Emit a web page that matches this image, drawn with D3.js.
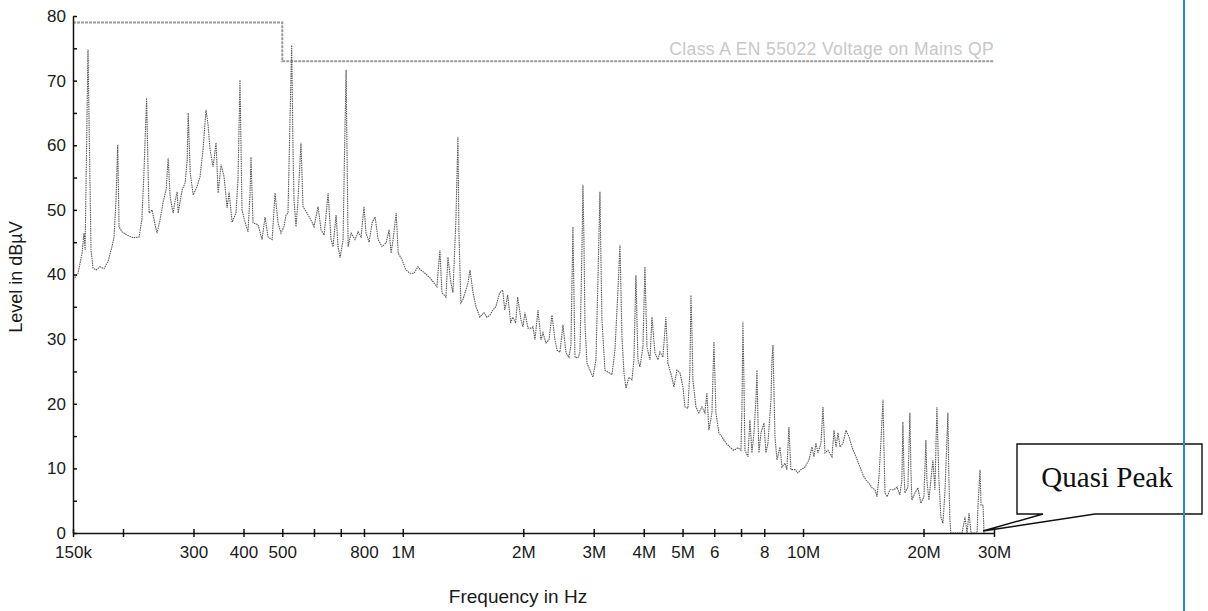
<!DOCTYPE html>
<html>
<head>
<meta charset="utf-8">
<script src="https://cdn.jsdelivr.net/npm/d3@7"></script>
<style>
  body { margin: 0; background: #fff; }
  svg { display: block; font-family: "Liberation Sans", Arial, sans-serif; }
</style>
</head>
<body>
<div class="chart"></div>
<script>
// ---- data
// frequency in MHz
var freqMHz = [
  0.1517,0.1544,0.158,0.1598,0.1608,0.1635,0.1654,0.1664,0.1683,0.1712,
  0.1752,0.1793,0.1835,0.1877,0.1899,0.1921,0.194,0.1955,0.1989,0.2046,
  0.2119,0.2194,0.2229,0.2255,0.2291,0.231,0.2324,0.2364,0.2405,0.2433,
  0.2476,0.2519,0.2563,0.2593,0.2623,0.2669,0.27,0.2731,0.2747,0.2811,
  0.286,0.2893,0.291,0.2944,0.2995,0.3061,0.3114,0.3169,0.3224,0.3262,
  0.33,0.3357,0.3416,0.3456,0.3516,0.3577,0.364,0.3682,0.3746,0.3831,
  0.3875,0.392,0.3966,0.4035,0.4105,0.4152,0.4176,0.4225,0.4349,0.445,
  0.4528,0.4607,0.4716,0.4796,0.4878,0.4963,0.5049,0.5108,0.5167,0.5227,
  0.5278,0.5318,0.5349,0.5411,0.5473,0.5568,0.5633,0.5766,0.5935,0.6,
  0.6143,0.625,0.6359,0.6433,0.6507,0.662,0.6697,0.6813,0.6892,0.6972,
  0.7093,0.7155,0.7218,0.726,0.7302,0.7429,0.7597,0.7733,0.7867,0.8,
  0.8097,0.8238,0.8382,0.8529,0.8678,0.8877,0.9083,0.9242,0.9349,0.9457,
  0.9629,0.9741,0.9954,1.0185,1.042,1.067,1.091,1.11,1.136,1.169,
  1.196,1.217,1.238,1.2527,1.2818,1.2966,1.3193,1.3346,1.3576,1.3733,
  1.381,1.397,1.413,1.4555,1.4723,1.4978,1.5237,1.5588,1.5949,1.6223,
  1.6504,1.6789,1.7078,1.747,1.7773,1.7979,1.8288,1.8605,1.882,1.9144,
  1.9367,1.9738,1.9965,2.0196,2.055,2.0908,2.115,2.1396,2.1768,2.2146,
  2.2402,2.2792,2.3188,2.3592,2.4002,2.428,2.4702,2.5132,2.557,2.6014,
  2.6311,2.6617,2.6925,2.739,2.7708,2.803,2.8192,2.8355,2.852,2.8849,
  2.935,2.9863,3.038,3.0735,3.1092,3.127,3.1452,3.1998,3.2742,3.3312,
  3.3894,3.4485,3.4884,3.5289,3.5697,3.6111,3.6738,3.7373,3.7804,3.8241,
  3.8685,3.9131,3.9817,4.0276,4.0744,4.1452,4.1932,4.266,4.34,4.3904,
  4.4664,4.544,4.5964,4.7041,4.7583,4.8412,4.9256,5.0115,5.0695,5.1575,
  5.217,5.2475,5.2775,5.308,5.4005,5.494,5.5895,5.6865,5.7525,5.819,
  5.9213,5.9898,6.0588,6.1638,6.2712,6.4176,6.5676,6.7088,6.8762,6.996,
  7.0364,7.077,7.1176,7.1589,7.2835,7.3682,7.4536,7.5404,7.6279,7.672,
  7.716,7.761,7.851,7.9864,8.0784,8.1728,8.316,8.364,8.4128,8.4608,
  8.5096,8.6088,8.7584,8.8592,9.01,9.1143,9.2196,9.3267,9.54,9.7068,
  9.8795,10.11,10.346,10.527,10.649,10.773,10.898,11.088,11.216,11.346,
  11.544,11.813,11.95,12.088,12.228,12.37,12.585,12.804,13.027,13.254,
  13.562,13.877,14.119,14.365,14.615,14.87,15.129,15.304,15.481,15.661,
  15.842,15.934,16.026,16.212,16.494,16.877,17.171,17.458,17.66,17.762,
  17.865,17.968,18.282,18.493,18.6,18.707,19.033,19.365,19.703,20.046,
  20.278,20.394,20.63,20.868,21.11,21.354,21.602,21.852,22.104,22.36,
  22.618,22.88,23.012,23.146,23.28,23.414,24.962,25.396,25.689,25.988,
  26.288,27.213,27.37,27.685,27.845,28.166,28.33
];
// level in dBµV, same order
var levelDb = [
  39.5,40.2,43.3,46.4,43.8,74.8,54.2,43.8,41.0,40.7,
  41.2,40.9,42.0,44.3,45.7,51.5,60.1,47.4,46.6,46.1,
  45.7,45.8,48.5,55.4,67.3,56.2,49.5,50.0,47.7,46.4,
  48.5,51.2,53.1,58.0,52.0,49.5,51.5,52.8,49.5,53.1,
  54.2,57.7,65.0,55.7,52.3,53.6,55.1,59.3,65.5,63.2,
  59.3,56.7,60.4,52.6,57.0,55.1,50.3,52.8,48.1,49.5,
  54.6,70.1,50.0,48.1,46.6,52.3,58.2,48.0,47.7,45.4,
  48.9,45.8,45.4,52.6,48.0,46.4,47.4,49.2,49.5,63.9,
  75.5,59.3,51.5,47.4,51.5,60.4,50.5,49.5,48.1,47.4,
  50.5,46.9,46.1,49.2,52.6,45.4,44.3,49.2,44.3,42.6,
  45.4,59.3,71.7,57.7,44.3,46.4,45.4,46.6,45.8,50.5,
  46.4,45.0,48.0,48.9,45.4,44.3,44.9,46.9,43.3,45.4,
  49.5,43.3,42.3,40.7,40.2,40.2,41.2,40.7,40.2,39.5,
  38.7,38.1,43.8,37.2,36.5,42.7,38.7,37.2,48.5,61.3,
  46.9,35.6,36.1,38.7,40.7,37.2,35.0,33.4,34.1,33.4,
  33.7,34.5,35.0,37.2,37.6,34.5,36.8,32.5,33.4,32.5,
  36.5,33.0,31.9,34.1,31.7,31.7,31.9,29.9,34.5,29.9,
  31.0,29.4,29.9,33.7,29.9,28.3,28.0,32.2,27.9,27.2,
  29.1,47.4,27.2,27.1,27.9,43.8,53.9,45.4,32.5,26.3,
  25.2,24.1,26.8,39.2,52.8,42.3,33.0,25.2,24.8,24.5,
  28.3,37.6,44.6,30.3,24.8,22.4,24.1,23.7,26.8,39.9,
  26.8,25.7,28.8,41.2,28.8,26.8,33.4,27.9,26.8,28.0,
  27.2,33.4,26.3,24.1,22.6,25.2,24.8,22.6,19.5,19.3,
  25.2,36.8,31.4,23.7,19.5,18.6,19.5,18.6,21.7,15.9,
  18.6,29.6,18.6,15.5,14.9,13.9,13.3,12.8,13.2,12.8,
  19.0,32.7,23.7,12.8,11.8,17.5,12.4,15.5,20.6,25.2,
  17.5,12.4,15.5,17.0,12.4,13.9,20.6,26.8,29.1,22.1,
  14.9,11.3,13.3,10.2,10.8,9.8,16.4,9.8,9.8,9.3,
  9.8,10.2,11.3,13.3,11.8,13.9,12.4,13.9,19.5,12.4,
  12.8,11.8,15.9,13.3,15.5,13.3,13.9,15.9,14.9,13.3,
  11.8,10.2,9.0,8.2,7.7,7.0,6.7,5.6,8.7,14.4,
  20.6,12.8,6.2,5.6,6.7,6.7,7.1,5.9,8.2,17.2,
  9.8,6.2,7.1,18.6,9.8,5.1,6.2,7.0,4.6,5.6,
  14.4,8.2,5.1,8.2,11.3,6.7,19.5,8.2,2.5,1.5,
  6.2,14.4,18.6,8.2,2.0,0,0,2.5,0,3.1,
  0,0,4.3,9.8,4.3,4.3,0
];

// Class A EN 55022 QP limit
var limitFreq = [0.15, 0.5, 0.5, 30];
var limitLevel = [79, 79, 73, 73];

// axis ticks
var xTicks = [0.15, 0.2, 0.3, 0.4, 0.5, 0.6, 0.7, 0.8, 1, 2, 3, 4, 5, 6, 7, 8, 10, 20, 30];
var xTickLabels = ["150k", "", "300", "400", "500", "", "", "800", "1M", "2M", "3M", "4M", "5M", "6", "", "8", "10M", "20M", "30M"];
var yTicks = [0, 10, 20, 30, 40, 50, 60, 70, 80];
var yMinorTicks = [5, 15, 25, 35, 45, 55, 65, 75];

var W = 1208, H = 611;

var svg = d3.select(".chart")
  .append("svg")
    .attr("width", W)
    .attr("height", H);

svg.append("rect").attr("width", W).attr("height", H).attr("fill", "#fff");

var x = d3.scaleLog()
  .domain([0.15, 30])
  .range([73, 994]);

var y = d3.scaleLinear()
  .domain([0, 80])
  .range([533, 16]);

// ---- limit line
var limitData = limitFreq.map(function(f, i) { return [f, limitLevel[i]]; });
svg.append("path")
  .datum(limitData)
  .attr("fill", "none")
  .attr("stroke", "#9a9a9a")
  .attr("stroke-width", 2)
  .attr("stroke-dasharray", "3,1")
  .attr("d", d3.line()
    .x(function(d) { return x(d[0]); })
    .y(function(d) { return y(d[1]); }));

svg.append("text")
  .attr("x", x(30))
  .attr("y", y(73) - 6)
  .attr("text-anchor", "end")
  .attr("font-size", 17.5)
  .attr("letter-spacing", 0.4)
  .attr("fill", "#c8c8c8")
  .text("Class A EN 55022 Voltage on Mains QP");

// ---- measured trace
var trace = freqMHz.map(function(f, i) { return [f, levelDb[i]]; });
svg.append("path")
  .datum(trace)
  .attr("fill", "none")
  .attr("stroke", "#5a5a5a")
  .attr("stroke-width", 1.1)
  .attr("stroke-dasharray", "1.5,0.8")
  .attr("d", d3.line()
    .x(function(d) { return x(d[0]); })
    .y(function(d) { return y(d[1]); }));

// ---- X axis
var gx = svg.append("g")
  .attr("transform", "translate(0," + y(0) + ")")
  .call(d3.axisBottom(x)
    .tickValues(xTicks)
    .tickFormat(function(d, i) { return xTickLabels[i]; })
    .tickSizeInner(4)
    .tickSizeOuter(0)
    .tickPadding(9));
gx.selectAll(".tick line").attr("y1", -4);
gx.selectAll("text").attr("font-size", 17).attr("fill", "#1a1a1a")
  .attr("font-family", "'Liberation Sans', Arial, sans-serif");

// ---- Y axis
var gy = svg.append("g")
  .attr("transform", "translate(" + x(0.15) + ",0)")
  .call(d3.axisLeft(y)
    .tickValues(yTicks)
    .tickSizeInner(5)
    .tickSizeOuter(0)
    .tickPadding(2));
gy.selectAll(".tick line").attr("x2", 4);
gy.selectAll("text").attr("font-size", 17).attr("fill", "#1a1a1a")
  .attr("font-family", "'Liberation Sans', Arial, sans-serif");

var gyMinor = svg.append("g")
  .attr("transform", "translate(" + x(0.15) + ",0)")
  .call(d3.axisLeft(y)
    .tickValues(yMinorTicks)
    .tickFormat("")
    .tickSizeInner(4)
    .tickSizeOuter(0));
gyMinor.select(".domain").remove();
gyMinor.selectAll(".tick line").attr("x2", 4);

[gx, gy, gyMinor].forEach(function(g) {
  g.selectAll(".domain, .tick line").attr("stroke", "#111").attr("stroke-width", 1.5);
});

// ---- axis titles
svg.append("text")
  .attr("x", 518)
  .attr("y", 603)
  .attr("text-anchor", "middle")
  .attr("font-size", 19)
  .attr("fill", "#1a1a1a")
  .text("Frequency in Hz");

svg.append("text")
  .attr("transform", "translate(22,277)rotate(-90)")
  .attr("text-anchor", "middle")
  .attr("font-size", 18)
  .attr("fill", "#1a1a1a")
  .text("Level in dBµV");

// ---- Quasi Peak callout
svg.append("path")
  .attr("d", "M1017,444 H1202 V514 H1095 L983,531 L1043,514 H1017 Z")
  .attr("fill", "#fff")
  .attr("stroke", "#111")
  .attr("stroke-width", 1.4);

svg.append("text")
  .attr("x", 1107)
  .attr("y", 487)
  .attr("text-anchor", "middle")
  .attr("font-family", "'Liberation Serif', 'Times New Roman', serif")
  .attr("font-size", 29)
  .attr("fill", "#111")
  .text("Quasi Peak");

// page edge line from the scan
svg.append("line")
  .attr("x1", 1184).attr("x2", 1184)
  .attr("y1", 0).attr("y2", H)
  .attr("stroke", "#2b86dd")
  .attr("stroke-width", 2);
</script>
</body>
</html>
